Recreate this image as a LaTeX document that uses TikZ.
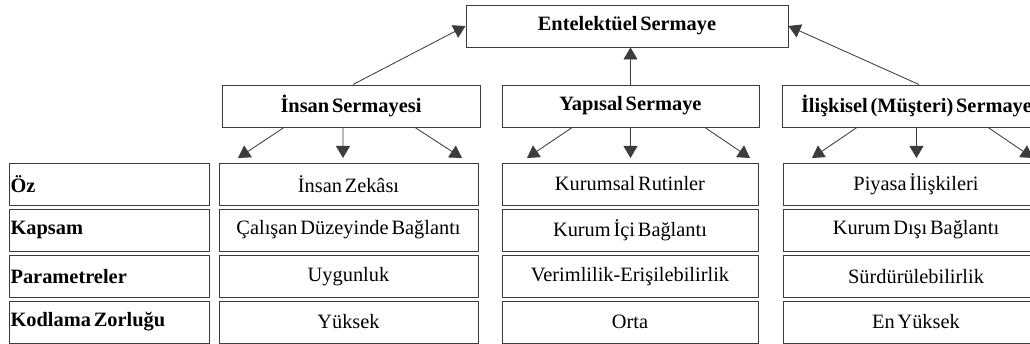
\documentclass[tikz,border=0pt]{standalone}
\usepackage{fontspec}
\setmainfont{Liberation Serif}[WordSpace=0.55]
\usepackage{tikz}
\usetikzlibrary{arrows.meta,positioning}
\definecolor{boxline}{RGB}{60,60,60}

\begin{document}
\begin{tikzpicture}[x=0.25mm,y=-0.25mm,
    font=\fontsize{14.5}{16}\selectfont,
    box/.style={draw=boxline, line width=0.7pt, minimum height=10.5mm, inner sep=0pt},
    head/.style={box, font=\fontsize{14.5}{16}\selectfont\bfseries},
    rowhead/.style={head, text width=49.2mm, inner xsep=0.4mm, align=flush left},
    arr/.style={-{Triangle[length=3mm,width=3.5mm]}, line width=0.6pt, boxline}]
    \useasboundingbox (0,0) rectangle (1030,344);

    % Top level
    \node[head, minimum width=80.5mm] (ent) at (627,26) {Entelektüel Sermaye};

    % Capital types
    \node[head, minimum width=64.5mm] (insan) at (351,106) {İnsan Sermayesi};
    \node[head, minimum width=64.25mm] (yapi) at (630.5,106) {Yapısal Sermaye};
    \node[head, minimum width=67.25mm] (iliski) at (916.5,106) {İlişkisel (Müşteri) Sermaye};

    \draw[arr] ([xshift=0.5mm]insan.north) -- (ent.west);
    \draw[arr] (yapi.north) -- (yapi.north |- ent.south);
    \draw[arr] ([xshift=0.6mm]iliski.north) -- (ent.east);

    % Row headings
    \node[rowhead] (oz) at (109,184) {Öz};
    \node[rowhead] (kapsam) at (109,230) {Kapsam};
    \node[rowhead] (param) at (109,276.5) {Parametreler};
    \node[rowhead] (kodlama) at (109,322) {Kodlama Zorluğu};

    % Human capital column
    \node[box, minimum width=64.75mm] (insanoz) at (348.5,184) {İnsan Zekâsı};
    \node[box, minimum width=64.75mm] (insankap) at (348.5,230) {Çalışan Düzeyinde Bağlantı};
    \node[box, minimum width=64.75mm] (insanpar) at (348.5,276.5) {Uygunluk};
    \node[box, minimum width=64.75mm] (insankod) at (348.5,322) {Yüksek};

    % Structural capital column
    \node[box, minimum width=64mm] (yapioz) at (630,184) {Kurumsal Rutinler};
    \node[box, minimum width=64mm] (yapikap) at (630,230) {Kurum İçi Bağlantı};
    \node[box, minimum width=64mm] (yapipar) at (630,276.5) {Verimlilik-Erişilebilirlik};
    \node[box, minimum width=64mm] (yapikod) at (630,322) {Orta};

    % Relational capital column
    \node[box, minimum width=66.5mm] (iliskioz) at (916,184) {Piyasa İlişkileri};
    \node[box, minimum width=66.5mm] (iliskikap) at (916,230) {Kurum Dışı Bağlantı};
    \node[box, minimum width=66.5mm] (iliskipar) at (916,276.5) {Sürdürülebilirlik};
    \node[box, minimum width=66.5mm] (iliskikod) at (916,322) {En Yüksek};

    % Arrow tips above the columns
    \coordinate (insanl) at (238,158);
    \coordinate (insanm) at (343,158);
    \coordinate (insanr) at (462,158);
    \coordinate (yapil) at (527,158);
    \coordinate (yapim) at (630.5,158);
    \coordinate (yapir) at (750,158);
    \coordinate (iliskil) at (812,158);
    \coordinate (iliskim) at (916.5,158);
    \coordinate (iliskir) at (1033,158);

    \draw[arr] ([xshift=-16.75mm]insan.south) -- (insanl);
    \draw[arr] ([xshift=-2mm]insan.south) -- (insanm);
    \draw[arr] ([xshift=16mm]insan.south) -- (insanr);
    \draw[arr] ([xshift=-14.6mm]yapi.south) -- (yapil);
    \draw[arr] (yapi.south) -- (yapim);
    \draw[arr] ([xshift=18.6mm]yapi.south) -- (yapir);
    \draw[arr] ([xshift=-14.9mm]iliski.south) -- (iliskil);
    \draw[arr] (iliski.south) -- (iliskim);
    \draw[arr] ([xshift=17.9mm]iliski.south) -- (iliskir);
\end{tikzpicture}
\end{document}
